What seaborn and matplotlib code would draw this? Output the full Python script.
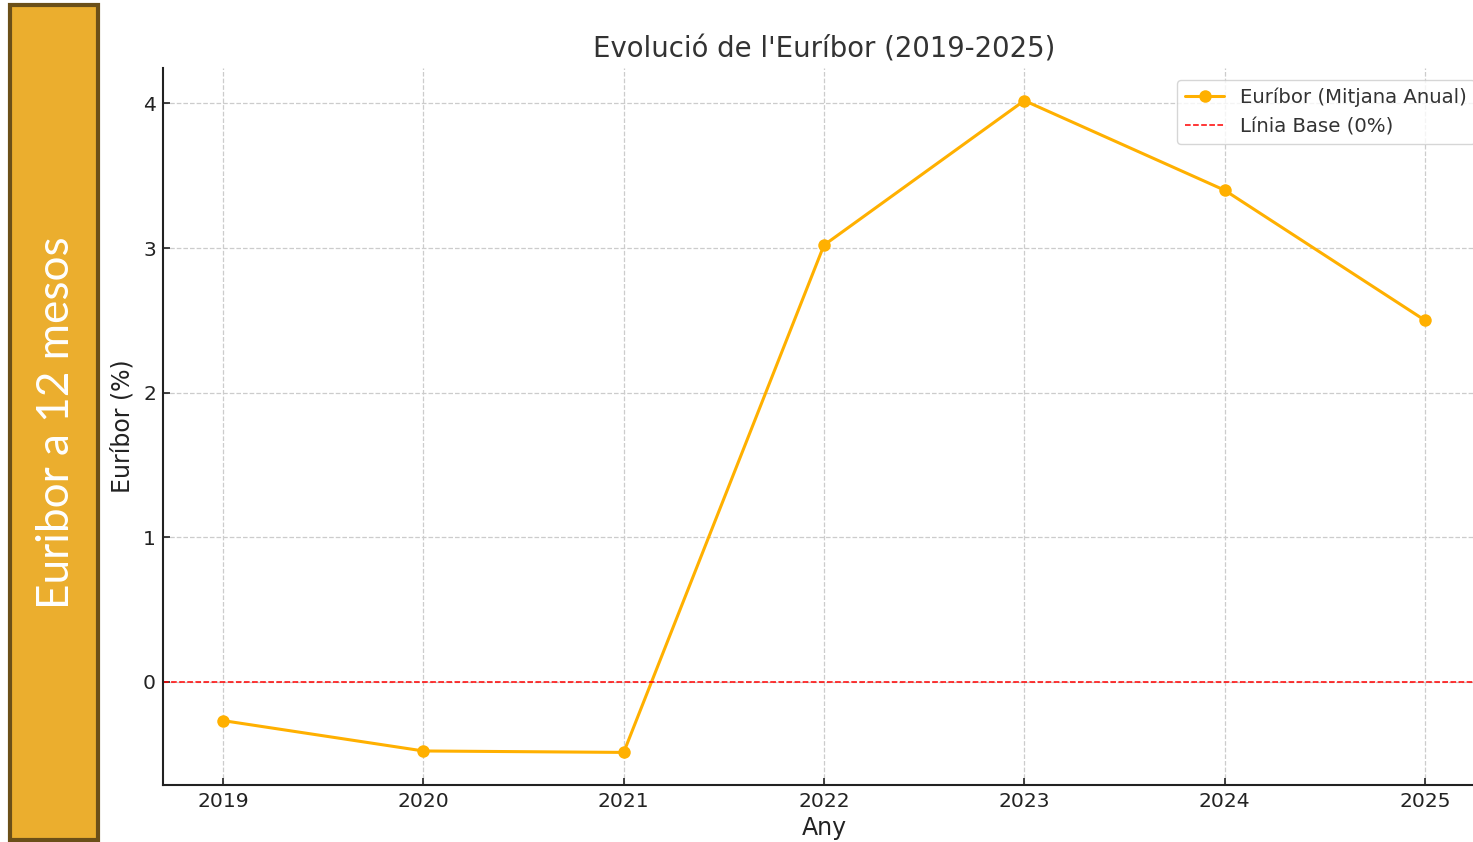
import matplotlib
matplotlib.use("Agg")
import matplotlib.pyplot as plt
import seaborn as sns
import pandas as pd
from matplotlib.patches import Rectangle

years = [2019, 2020, 2021, 2022, 2023, 2024, 2025]
euribor = [-0.27, -0.48, -0.49, 3.02, 4.02, 3.40, 2.50]
yticks = [0, 1, 2, 3, 4]

title = "Evolució de l'Euríbor (2019-2025)"
xlabel = "Any"
ylabel = "Euríbor (%)"
series_label = "Euríbor (Mitjana Anual)"
base_label = "Línia Base (0%)"
side_text = "Euribor a 12 mesos"

sns.set_style("ticks")
plt.rcParams['font.family'] = ['DejaVu Sans']

df = pd.DataFrame({"Any": years, "Euribor": euribor})

fig = plt.figure(figsize=(14.73, 8.42), dpi=100)
ax = fig.add_axes([163/1473, 57/842, (1485-163)/1473, (785-68)/842])

sns.lineplot(data=df, x="Any", y="Euribor", marker="o", color="#FFB000",
             linewidth=2.2, markersize=9, markeredgewidth=0, label=series_label, ax=ax)
ax.axhline(0, color="red", linestyle="--", linewidth=1.1, label=base_label)

ax.set_xticks(years)
ax.set_yticks(yticks)
ax.tick_params(axis="both", labelsize=14.6, colors="#222222", length=5, width=1.2,
               direction="in", pad=5)
ax.set_xlabel(xlabel, fontsize=17, color="#222222", labelpad=4)
ax.set_ylabel(ylabel, fontsize=17, color="#222222", labelpad=6.5)
ax.set_title(title, fontsize=19.8, color="#333333", pad=7.5)
ax.grid(True, linestyle="--", color="#cccccc", linewidth=0.9)
for s in ["top", "right"]:
    ax.spines[s].set_visible(False)
for s in ["left", "bottom"]:
    ax.spines[s].set_color("#222222")
    ax.spines[s].set_linewidth(1.5)

leg = ax.legend(loc="upper right", fontsize=14.2, frameon=True, fancybox=True,
                borderaxespad=0, bbox_to_anchor=(0.9924, 0.9833))
leg.get_frame().set_edgecolor("#cccccc")
for t in leg.get_texts():
    t.set_color("#333333")

# side label box
rect = Rectangle((10/1473, 2/842), 88/1473, 835/842, transform=fig.transFigure,
                 facecolor="#EBAE2E", edgecolor="#6B4F18", linewidth=3, zorder=5)
fig.patches.append(rect)
fig.text(57/1473, 1 - 423/842, side_text, rotation=90, ha="center", va="center",
         fontsize=31.8, color="white", family=["Lato", "DejaVu Sans"], zorder=6)

fig.savefig("out.png", dpi=100)
